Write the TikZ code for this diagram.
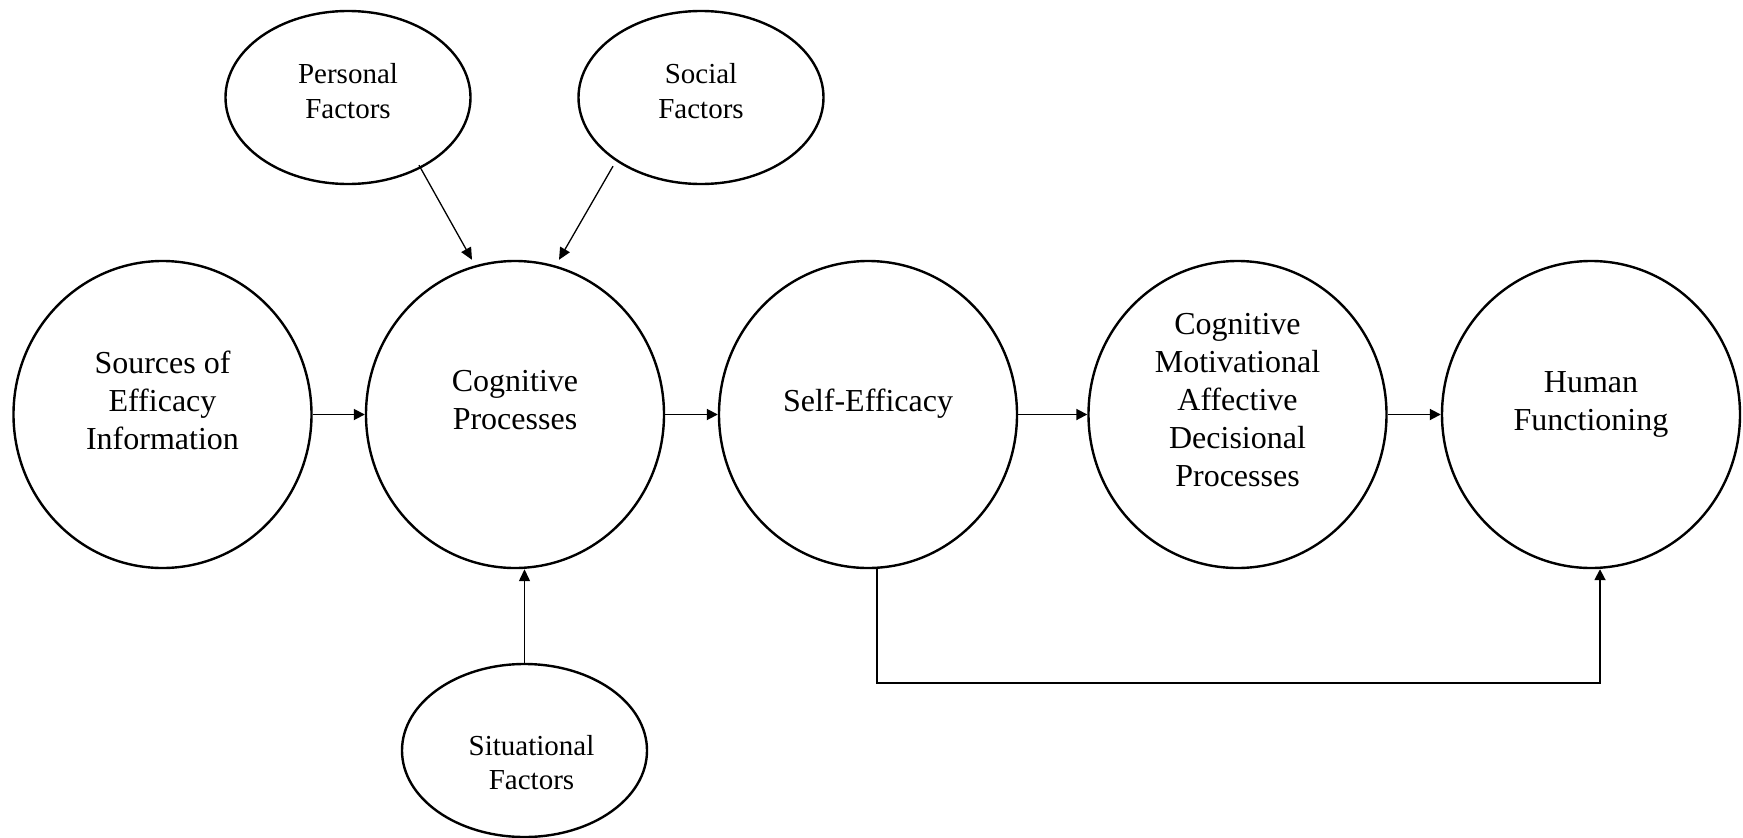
\documentclass[tikz,border=0pt]{standalone}
\usepackage{fontspec}
\setmainfont{Liberation Serif}
\usetikzlibrary{shapes.geometric,arrows.meta}
\tikzset{
  big/.style={ellipse, draw, line width=2.4pt, minimum width=298pt, minimum height=307pt, inner sep=0pt},
  small/.style={ellipse, draw, line width=2.4pt, minimum width=245pt, minimum height=173pt, inner sep=0pt},
  bigtxt/.style={align=center, inner sep=0pt, font=\fontsize{32}{38}\selectfont},
  smalltxt/.style={align=center, inner sep=0pt, font=\fontsize{29}{34.5}\selectfont},
  arr/.style={-{Triangle[length=11pt,width=11pt]}, line width=1.8pt},
  thinarr/.style={-{Triangle[length=12pt,width=11pt]}, line width=1.3pt}
}
\begin{document}
\begin{tikzpicture}[x=1pt,y=-1pt]
\useasboundingbox (0,0) rectangle (1743,838);
% big circles
\node[big] (src)  at (162.5,414.5) {};
\node[big] (cog)  at (515,414.5) {};
\node[big] (self) at (868,414.5) {};
\node[big] (cmad) at (1237.5,414.5) {};
\node[big] (hum)  at (1591,414.5) {};
% small ellipses
\node[small] (pers) at (348,97.5) {};
\node[small] (soc)  at (701,97.5) {};
\node[small] (sit)  at (524.5,750.5) {};
% texts
\node[bigtxt] (srcT)  at (162.5,400) {Sources of\\Efficacy\\Information};
\node[bigtxt] (cogT)  at (515,400) {Cognitive\\Processes};
\node[bigtxt] (selfT) at (868,404) {Self-Efficacy};
\node[bigtxt] (cmadT) at (1237.5,400.5) {Cognitive\\Motivational\\Affective\\Decisional\\Processes};
\node[bigtxt] (humT)  at (1591,404) {Human\\Functioning};
\node[smalltxt] (persT) at (348,91) {Personal\\Factors};
\node[smalltxt] (socT)  at (701,91) {Social\\Factors};
\node[smalltxt] (sitT)  at (531.5,762.5) {Situational\\Factors};
% connectors
\draw[arr] (src.east) -- (cog.west);
\draw[arr] (cog.east) -- (self.west);
\draw[arr] (self.east) -- (cmad.west);
\draw[arr] (cmad.east) -- (hum.west);
\draw[thinarr] ([xshift=71pt,yshift=20pt]pers.south) -- ([xshift=-43pt]cog.north);
\draw[thinarr] ([xshift=-88pt,yshift=19pt]soc.south) -- ([xshift=44pt]cog.north);
\draw[thinarr] (sit.north) -- ([xshift=9.5pt]cog.south);
\coordinate (fbR) at (1600,683);
\draw[arr] ([xshift=9pt]self.south) |- (fbR) -- ([xshift=9pt]hum.south);
\end{tikzpicture}
\end{document}
